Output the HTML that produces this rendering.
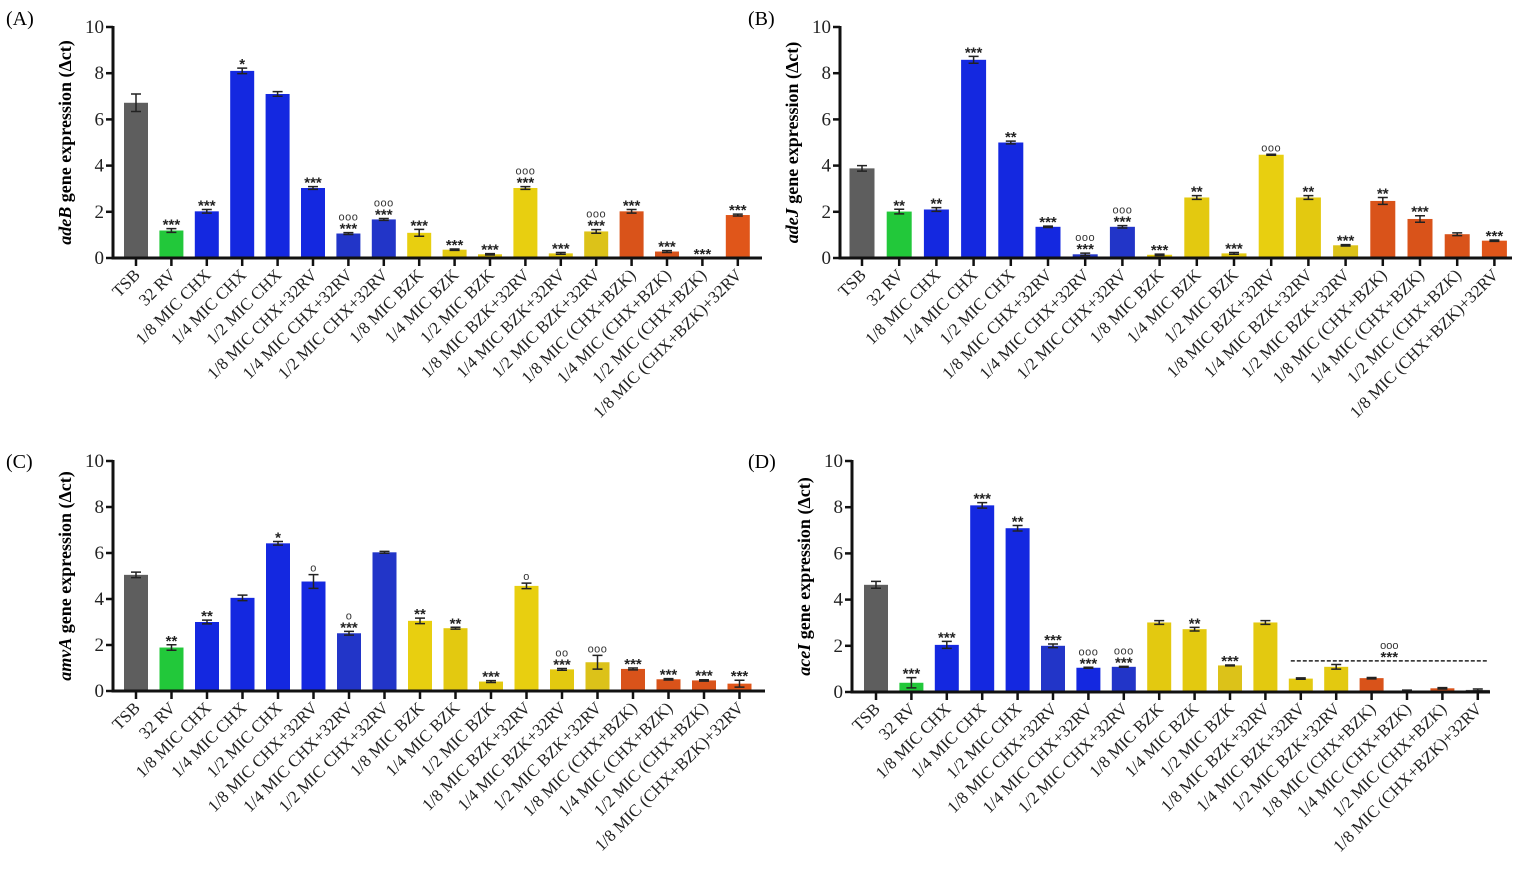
<!DOCTYPE html>
<html><head><meta charset="utf-8"><style>
html,body{margin:0;padding:0;background:#fff;}
svg{display:block;font-family:"Liberation Serif",serif;}
</style></head><body>
<svg id="fig" width="1535" height="875" viewBox="0 0 1535 875" xmlns="http://www.w3.org/2000/svg"></svg>
<script>
const categories=["TSB","32 RV","1/8 MIC CHX","1/4 MIC CHX","1/2 MIC CHX","1/8 MIC CHX+32RV","1/4 MIC CHX+32RV","1/2 MIC CHX+32RV","1/8 MIC BZK","1/4 MIC BZK","1/2 MIC BZK","1/8 MIC BZK+32RV","1/4 MIC BZK+32RV","1/2 MIC BZK+32RV","1/8 MIC (CHX+BZK)","1/4 MIC (CHX+BZK)","1/2 MIC (CHX+BZK)","1/8 MIC (CHX+BZK)+32RV"];
const yTicks=[0,2,4,6,8,10];
const valsA=[6.72,1.19,2.02,8.1,7.1,3.03,1.06,1.67,1.09,0.36,0.16,3.03,0.2,1.15,2.02,0.28,0,1.86];
const errA=[0.38,0.08,0.08,0.12,0.1,0.06,0.04,0.04,0.15,0.03,0.03,0.06,0.04,0.08,0.08,0.04,0,0.04];
const sigA=["","***","***","*","","***","***","***","***","***","***","***","***","***","***","***","***","***"];
const circA=["","","","","","","ooo","ooo","","","","ooo","","ooo","","","",""];
const valsB=[3.88,2.01,2.1,8.58,5.0,1.35,0.16,1.35,0.14,2.62,0.2,4.47,2.62,0.55,2.47,1.69,1.03,0.75];
const errB=[0.12,0.1,0.08,0.15,0.06,0.03,0.05,0.05,0.03,0.08,0.04,0.02,0.08,0.03,0.15,0.14,0.06,0.03];
const sigB=["","**","**","***","**","***","***","***","***","**","***","","**","***","**","***","","***"];
const circB=["","","","","","","ooo","ooo","","","","ooo","","","","","",""];
const valsC=[5.05,1.89,3.0,4.05,6.42,4.76,2.51,6.03,3.05,2.73,0.41,4.57,0.94,1.25,0.96,0.51,0.46,0.32];
const errC=[0.12,0.12,0.08,0.12,0.08,0.3,0.08,0.04,0.12,0.04,0.04,0.12,0.04,0.3,0.04,0.03,0.03,0.15];
const sigC=["","**","**","","*","","***","","**","**","***","","***","","***","***","***","***"];
const circC=["","","","","","o","o","","","","","o","oo","ooo","","","",""];
const valsD=[4.64,0.4,2.04,8.08,7.09,2.0,1.05,1.09,3.01,2.72,1.15,3.01,0.58,1.09,0.6,0.06,0.16,0.09];
const errD=[0.15,0.22,0.15,0.12,0.12,0.08,0.02,0.02,0.08,0.08,0.02,0.08,0.03,0.1,0.03,0.02,0.03,0.04];
const sigD=["","***","***","***","**","***","***","***","","**","***","","","","","","",""];
const circD=["","","","","","","ooo","ooo","","","","","","","","","",""];
const colorsABC=["#5e5e5e","#22c83a","#1428e0","#1428e0","#1428e0","#1428e0","#2235c8","#2235c8","#e8cf10","#e3c910","#e3c910","#e8cf10","#e3c910","#dcc219","#d9531a","#d9531a","#d9531a","#e0561a"];
const colorsD=["#5e5e5e","#22c83a","#1428e0","#1428e0","#1428e0","#2235c8","#1428e0","#2235c8","#e3c910","#e3c910","#dcc219","#e3c910","#e3c910","#e3c910","#d9531a","#555","#d9531a","#555"];
const dashD={from:12,to:17,value:1.35,sig:"***",circ:"ooo"};

const NS="http://www.w3.org/2000/svg";
const svg=document.getElementById('fig');
function mk(tag,attrs,parent,text){const e=document.createElementNS(NS,tag);for(const k in attrs)e.setAttribute(k,attrs[k]);if(text!==undefined)e.textContent=text;parent.appendChild(e);return e;}

function panel(id,letter,gene,P,vals,errs,sigs,circs,colors){
  const g=mk('g',{},svg);
  
  
  const yS=v=>P.y0-v*(P.y0-P.y10)/10;
  const xS=i=>P.first+i*P.step;
  const lt=mk('text',{x:P.lx,y:P.ly,'font-size':20},g,'('+letter+')');
  
  
  const tt=mk('text',{transform:`translate(${P.ax-42},${(P.y0+P.y10)/2}) rotate(-90)`,'text-anchor':'middle','font-size':18,'font-weight':'bold'},g);
  
  
  mk('tspan',{'font-style':'italic'},tt,gene);
  mk('tspan',{},tt,'  gene expression (\u0394ct)');
  vals.forEach((v,i)=>{
    const x=xS(i),bw=P.bw;
    const r=mk('rect',{x:x-bw/2,y:yS(v),width:bw,height:Math.max(0,P.y0-yS(v)),fill:colors[i]},g);
    
    
    if(errs[i]>0){
      const e=mk('path',{d:`M${x},${yS(v)} V${yS(v+errs[i])} M${x-5},${yS(v+errs[i])} H${x+5} M${x-5},${yS(v-errs[i])} H${x+5} M${x},${yS(v)} V${yS(v-errs[i])}`,stroke:'#222','stroke-width':1.5,fill:'none'},g);
      
      
    }
    let ty=yS(v+errs[i])-3;
    if(sigs[i]){
      const s=mk('text',{x:x,y:ty+4,'text-anchor':'middle','font-size':15,'font-family':'Liberation Sans, sans-serif','font-weight':'bold',fill:'#222'},g,sigs[i]);
      
      
      ty-=9;
    }
    if(circs[i]){
      const c=mk('text',{x:x,y:ty,'text-anchor':'middle','font-size':11,'font-family':'Liberation Sans, sans-serif',fill:'#333','letter-spacing':'0.5'},g,circs[i]);
      
      
    }
    const tk=mk('line',{x1:x,x2:x,y1:P.y0,y2:P.y0+8,stroke:'#111','stroke-width':2.5},g);
    
    
    const lb=mk('text',{transform:`translate(${x+5},${P.y0+18}) rotate(-45)`,'text-anchor':'end','font-size':17,fill:'#222'},g,categories[i]);
    
    
  });
  const ya=mk('line',{x1:P.ax,x2:P.ax,y1:P.y10-1,y2:P.y0+1.5,stroke:'#111','stroke-width':3},g);
  
  
  const xa=mk('line',{x1:P.ax-1.5,x2:P.xend,y1:P.y0,y2:P.y0,stroke:'#111','stroke-width':3},g);
  
  
  yTicks.forEach(t=>{
    const l=mk('line',{x1:P.ax-7,x2:P.ax,y1:yS(t),y2:yS(t),stroke:'#111','stroke-width':2.5},g);
    
    
    const tx=mk('text',{x:P.ax-9,y:yS(t)+6,'text-anchor':'end','font-size':19,fill:'#222'},g,String(t));
    
    
  });
  return {g,xS,yS};
}
panel('a','A','adeB',{lx:6,ly:25,ax:113,y0:258,y10:27,first:136,step:35.4,bw:24,xend:762},valsA,errA,sigA,circA,colorsABC);
panel('b','B','adeJ',{lx:748,ly:25,ax:840,y0:258,y10:27,first:862,step:37.2,bw:25,xend:1512},valsB,errB,sigB,circB,colorsABC);
panel('c','C','amvA',{lx:6,ly:468,ax:113,y0:691,y10:461,first:136,step:35.5,bw:24,xend:765},valsC,errC,sigC,circC,colorsABC);
const pd=panel('d','D','aceI',{lx:748,ly:468,ax:852,y0:692,y10:461,first:876,step:35.4,bw:24,xend:1490},valsD,errD,sigD,circD,colorsD);
const dl=mk('line',{x1:pd.xS(dashD.from)-10,x2:pd.xS(dashD.to)+10,y1:pd.yS(dashD.value),y2:pd.yS(dashD.value),stroke:'#222','stroke-width':1.5,'stroke-dasharray':'4,2'},pd.g);


const dmx=(pd.xS(dashD.from)+pd.xS(dashD.to))/2;
const ds=mk('text',{x:dmx,y:pd.yS(dashD.value)+1,'text-anchor':'middle','font-size':15,'font-family':'Liberation Sans, sans-serif','font-weight':'bold',fill:'#222'},pd.g,dashD.sig);


const dc=mk('text',{x:dmx,y:pd.yS(dashD.value)-12,'text-anchor':'middle','font-size':11,'font-family':'Liberation Sans, sans-serif',fill:'#333'},pd.g,dashD.circ);


</script>
</body></html>
